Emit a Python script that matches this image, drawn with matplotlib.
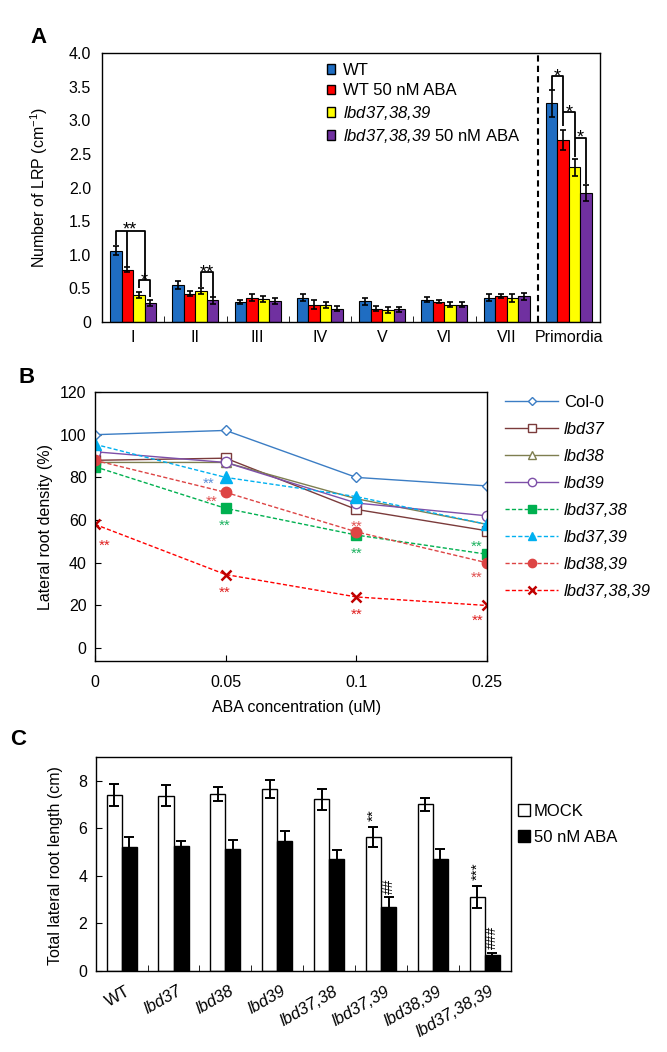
import numpy as np
import matplotlib
matplotlib.use('Agg')
import matplotlib.pyplot as plt
from matplotlib.patches import Patch
from matplotlib.transforms import ScaledTranslation

plt.rcParams['font.family'] = ['Liberation Sans', 'DejaVu Sans']
plt.rcParams['mathtext.fontset'] = 'custom'
plt.rcParams['mathtext.rm'] = 'Liberation Sans:italic'
plt.rcParams['mathtext.it'] = 'Liberation Sans:italic'
plt.rcParams['mathtext.sf'] = 'Liberation Sans'
plt.rcParams['mathtext.bf'] = 'Liberation Sans:bold'
plt.rcParams['axes.linewidth'] = 1.0

# ---------------- Panel A data ----------------
stages = ['I', 'II', 'III', 'IV', 'V', 'VI', 'VII', 'Primordia']
a_labels = ['WT', 'WT 50 nM ABA', r'$\mathit{lbd37{,}38{,}39}$',
            r'$\mathit{lbd37{,}38{,}39}$ 50 nM ABA']
a_wt = [1.06, 0.55, 0.30, 0.36, 0.31, 0.33, 0.36, 3.25]
a_wt_err = [0.07, 0.06, 0.03, 0.05, 0.05, 0.04, 0.05, 0.20]
a_wt_aba = [0.78, 0.42, 0.36, 0.26, 0.20, 0.30, 0.38, 2.71]
a_wt_aba_err = [0.04, 0.04, 0.05, 0.06, 0.04, 0.02, 0.03, 0.15]
a_tri = [0.40, 0.46, 0.34, 0.25, 0.18, 0.26, 0.36, 2.30]
a_tri_err = [0.05, 0.04, 0.04, 0.04, 0.04, 0.03, 0.06, 0.13]
a_tri_aba = [0.28, 0.32, 0.31, 0.20, 0.19, 0.26, 0.38, 1.92]
a_tri_aba_err = [0.04, 0.05, 0.04, 0.04, 0.04, 0.03, 0.05, 0.12]

# ---------------- Panel B data ----------------
aba_conc = ['0', '0.05', '0.1', '0.25']
b_labels = ['Col-0', 'lbd37', 'lbd38', 'lbd39', 'lbd37,38', 'lbd37,39',
            'lbd38,39', 'lbd37,38,39']
b_col0 = [100, 102, 80, 76]
b_lbd37 = [88, 89, 65, 55]
b_lbd38 = [87, 87, 70, 58]
b_lbd39 = [92, 87, 68, 62]
b_lbd37_38 = [85, 65.5, 53, 44]
b_lbd37_39 = [95.5, 80, 71, 58]
b_lbd38_39 = [88, 73, 54.5, 40]
b_lbd37_38_39 = [58, 34.5, 24, 20]

# ---------------- Panel C data ----------------
c_genotypes = ['WT', 'lbd37', 'lbd38', 'lbd39', 'lbd37,38', 'lbd37,39',
               'lbd38,39', 'lbd37,38,39']
c_mock = [7.39, 7.37, 7.42, 7.65, 7.21, 5.64, 7.00, 3.10]
c_mock_err = [0.45, 0.45, 0.30, 0.38, 0.45, 0.42, 0.28, 0.47]
c_aba = [5.22, 5.25, 5.11, 5.46, 4.71, 2.70, 4.71, 0.67]
c_aba_err = [0.40, 0.20, 0.39, 0.40, 0.38, 0.42, 0.42, 0.08]

W, H = 667, 1052
fig = plt.figure(figsize=(W / 100, H / 100), dpi=100)


def rect(l, t, r, b):
    return [l / W, 1 - b / H, (r - l) / W, (b - t) / H]


def star(ax, x, yc, text, fs, color='black', dx=0.0, dy=0.0):
    # place asterisks so that their visual centre is at (x, yc)
    ax.annotate(text, xy=(x, yc), xytext=(dx, -0.58 * fs + dy),
                textcoords='offset points', ha='center', va='baseline',
                fontsize=fs, color=color)


# ======================= Panel A =======================
axA = fig.add_axes(rect(102, 53, 600, 322))
xa = np.arange(len(stages))
w = 0.185
a_colors = ['#1F6DC2', '#FF0000', '#FFFF00', '#7030A0']
a_vals = [a_wt, a_wt_aba, a_tri, a_tri_aba]
a_errs = [a_wt_err, a_wt_aba_err, a_tri_err, a_tri_aba_err]
for k in range(4):
    axA.bar(xa + (k - 1.5) * w, a_vals[k], w, yerr=a_errs[k],
            color=a_colors[k], edgecolor='black', linewidth=0.8,
            capsize=2.5, error_kw=dict(elinewidth=1.2, capthick=1.2,
                                       ecolor='black'), zorder=2)
axA.set_xlim(-0.5, 7.5)
axA.set_ylim(0, 4)
axA.set_yticks(np.arange(0, 4.01, 0.5))
axA.set_yticklabels(['0'] + ['%.1f' % v for v in np.arange(0.5, 4.01, 0.5)])
axA.set_xticks(xa)
axA.set_xticklabels(stages)
axA.set_xticks(np.arange(0.5, 6.0, 1.0), minor=True)
axA.tick_params(axis='x', which='major', length=0, pad=6, labelsize=11.5)
axA.tick_params(axis='x', which='minor', direction='in', length=4)
axA.tick_params(axis='y', length=0, pad=8, labelsize=11.5)
axA.axvline(6.5, color='black', ls=(0, (3, 2)), lw=1.5)
axA.set_ylabel(r'Number of LRP (cm$^{\mathsf{-1}}$)', fontsize=11.5)
axA.yaxis.set_label_coords(-0.104, 0.5)


def seg(ax, xs, ys, lw=1.3):
    ax.plot(xs, ys, color='black', lw=lw, solid_capstyle='butt', zorder=3)


SF = 13
xw, xr, xy, xp = -1.5 * w, -0.5 * w, 0.5 * w, 1.5 * w
# group I
seg(axA, [xw, xw, xy + w / 2, xy + w / 2], [1.143, 1.356, 1.356, 0.62])
seg(axA, [xr, xr], [1.356, 0.82])
seg(axA, [xy, xy, xp, xp], [0.507, 0.62, 0.62, 0.37])
star(axA, (xw + xy + w / 2) / 2, 1.45, '**', SF)
star(axA, xy + w / 2, 0.70, '*', SF)
# group II
seg(axA, [1 + xy, 1 + xy, 1 + xp, 1 + xp], [0.52, 0.745, 0.745, 0.37])
star(axA, 1 + xy + w / 2, 0.82, '**', SF)
# primordia
seg(axA, [7 + xw, 7 + xw, 7 + xr, 7 + xr], [3.45, 3.66, 3.66, 2.92])
seg(axA, [7 + xr, 7 + xy, 7 + xy], [3.12, 3.12, 2.45])
seg(axA, [7 + xy, 7 + xp, 7 + xp], [2.73, 2.73, 2.05])
star(axA, 7 + (xw + xr) / 2, 3.73, '*', SF)
star(axA, 7 + (xr + xy) / 2, 3.19, '*', SF)
star(axA, 7 + (xy + xp) / 2, 2.83, '*', SF)

handlesA = [Patch(facecolor=c, edgecolor='black', linewidth=1.0) for c in a_colors]
axA.legend(handlesA, a_labels, loc='upper left',
           bbox_to_anchor=(326.7 / W, 1 - 63 / H), bbox_transform=fig.transFigure,
           frameon=False, fontsize=12, handlelength=0.5, handleheight=0.5,
           handletextpad=0.5, labelspacing=0.32, borderpad=0, borderaxespad=0)

# ======================= Panel B =======================
axB = fig.add_axes(rect(95, 392, 487, 661))
xb = np.arange(len(aba_conc))
b_vals = [b_col0, b_lbd37, b_lbd38, b_lbd39, b_lbd37_38, b_lbd37_39,
          b_lbd38_39, b_lbd37_38_39]
dash = (0, (3, 1.6))
b_style = [
    dict(color='#3B7DC4', ls='-', marker='D', ms=5.5, mfc='white', mec='#3B7DC4', mew=1.0),
    dict(color='#7B3B3B', ls='-', marker='s', ms=7.5, mfc='white', mec='#7B3B3B', mew=1.0),
    dict(color='#7E7E50', ls='-', marker='^', ms=7.5, mfc='white', mec='#7E7E50', mew=1.0),
    dict(color='#7D4FA8', ls='-', marker='o', ms=7.5, mfc='white', mec='#7D4FA8', mew=1.0),
    dict(color='#00B050', ls=dash, marker='s', ms=7.5, mfc='#00B050', mec='#00B050', mew=1.0),
    dict(color='#00B0F0', ls=dash, marker='^', ms=8, mfc='#00B0F0', mec='#00B0F0', mew=1.0),
    dict(color='#DD4444', ls=dash, marker='o', ms=7.5, mfc='#DD4444', mec='#DD4444', mew=1.0),
    dict(color='#FF0000', ls=dash, marker='x', ms=7, mfc='#C00000', mec='#C00000', mew=1.8),
]
for vals, lab, st in zip(b_vals, b_labels, b_style):
    axB.plot(xb, vals, lw=1.0, label=lab, **st)
axB.set_xlim(0, 3)
axB.set_ylim(-6, 120)
axB.set_yticks(np.arange(0, 121, 20))
axB.set_xticks(xb)
axB.set_xticklabels(aba_conc)
axB.tick_params(direction='in', length=4, labelsize=11.5)
axB.tick_params(axis='x', pad=10)
axB.tick_params(axis='y', pad=6)
axB.set_ylabel('Lateral root density (%)', fontsize=11.5)
axB.yaxis.set_label_coords(-0.107, 0.5)
axB.set_xlabel('ABA concentration (uM)', fontsize=11.5)
axB.xaxis.set_label_coords(0.513, -0.145)

PX = 0.72  # points per pixel


def bstar(xi, v, dxpx, dypx, color):
    star(axB, xi, v, '**', 11, color=color, dx=dxpx * PX, dy=-dypx * PX)


c_blue, c_green, c_red1, c_red2 = '#5B8FD8', '#1DB360', '#E05050', '#E02020'
bstar(0, b_lbd37_38_39[0], 10, 17, c_red2)
bstar(1, b_lbd37_39[1], -17, 2, c_blue)
bstar(1, b_lbd38_39[1], -14, 5, c_red1)
bstar(1, b_lbd37_38[1], -1, 13, c_green)
bstar(1, b_lbd37_38_39[1], -1, 13, c_red2)
bstar(2, b_lbd38_39[2], 0, -10, c_red1)
bstar(2, b_lbd37_38[2], 0, 14, c_green)
bstar(2, b_lbd37_38_39[2], 0, 13, c_red2)
bstar(3, b_lbd37_38[3], -10, -12, c_green)
bstar(3, b_lbd38_39[3], -10, 10, c_red1)
bstar(3, b_lbd37_38_39[3], -9, 10, c_red2)

legB = axB.legend(loc='upper left', bbox_to_anchor=(505 / W, 1 - 395 / H),
                  bbox_transform=fig.transFigure, frameon=False, fontsize=12,
                  handlelength=3.2, handletextpad=0.35, labelspacing=0.72,
                  borderpad=0, borderaxespad=0, markerscale=0.8)
for t in legB.get_texts()[1:]:
    t.set_fontstyle('italic')

# ======================= Panel C =======================
axC = fig.add_axes(rect(95.7, 756.7, 510.7, 971))
xc = np.arange(len(c_genotypes))
bw = 0.29
axC.bar(xc - bw / 2, c_mock, bw, yerr=c_mock_err, color='white',
        edgecolor='black', linewidth=1.0, capsize=3.4,
        error_kw=dict(elinewidth=1.4, capthick=1.4, ecolor='black'),
        label='MOCK', zorder=2)
axC.bar(xc + bw / 2, c_aba, bw, yerr=c_aba_err, color='black',
        edgecolor='black', linewidth=1.0, capsize=3.4,
        error_kw=dict(elinewidth=1.4, capthick=1.4, ecolor='black'),
        label='50 nM ABA', zorder=2)
axC.set_xlim(-0.5, 7.5)
axC.set_ylim(0, 9)
axC.set_yticks([0, 2, 4, 6, 8])
axC.set_xticks(xc)
axC.set_xticklabels(c_genotypes)
axC.set_xticks(np.arange(0.5, 7.0, 1.0), minor=True)
axC.tick_params(axis='x', which='major', length=0, pad=9, labelsize=12)
axC.tick_params(axis='x', which='minor', direction='in', length=4)
axC.tick_params(axis='y', direction='in', length=4, pad=6, labelsize=11.5)
off = ScaledTranslation(4 / 100, 0, fig.dpi_scale_trans)
for i, lab in enumerate(axC.get_xticklabels()):
    lab.set_rotation(30)
    lab.set_ha('right')
    lab.set_va('top')
    lab.set_rotation_mode('anchor')
    lab.set_transform(lab.get_transform() + off)
    if i > 0:
        lab.set_fontstyle('italic')
axC.set_ylabel('Total lateral root length (cm)', fontsize=11.5)
axC.yaxis.set_label_coords(-0.079, 0.49)

axC.text(5 - bw / 2, 6.55, '**', rotation=90, ha='center', va='center', fontsize=11)
axC.text(5 + bw / 2, 3.58, '##', rotation=90, ha='center', va='center', fontsize=10)
axC.text(7 - bw / 2, 4.21, '***', rotation=90, ha='center', va='center', fontsize=11)
axC.text(7 + bw / 2, 1.43, '###', rotation=90, ha='center', va='center', fontsize=10)

axC.legend(loc='upper left', bbox_to_anchor=(518.3 / W, 1 - 804 / H),
           bbox_transform=fig.transFigure, frameon=False, fontsize=12,
           handlelength=0.72, handleheight=0.72, handletextpad=0.2,
           labelspacing=0.67, borderpad=0, borderaxespad=0)

# panel letters
fig.text(30 / W, 1 - 43.3 / H, 'A', fontsize=16, fontweight='bold', ha='left', va='baseline')
fig.text(18 / W, 1 - 382.7 / H, 'B', fontsize=16, fontweight='bold', ha='left', va='baseline')
fig.text(10 / W, 1 - 745 / H, 'C', fontsize=16, fontweight='bold', ha='left', va='baseline')

fig.savefig('out.png', dpi=100)
